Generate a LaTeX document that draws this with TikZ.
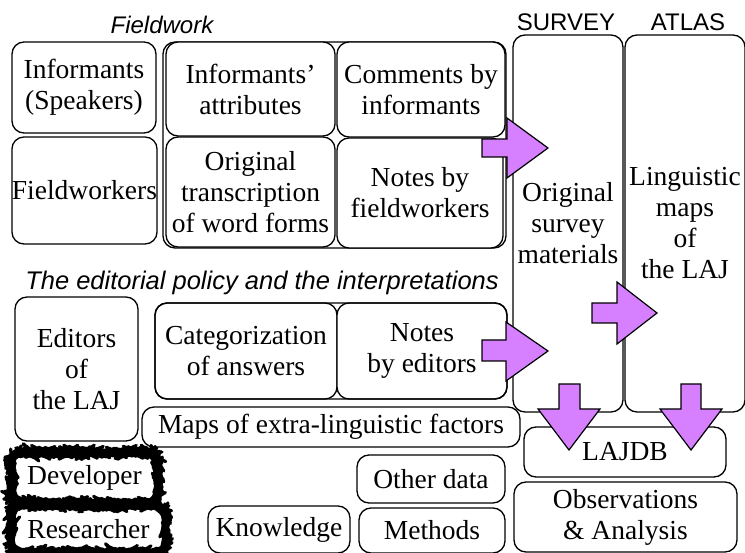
\documentclass[tikz,border=0pt]{standalone}
\usepackage{fontspec}
\setmainfont{Liberation Serif}
\setsansfont{Liberation Sans}
\usetikzlibrary{decorations.pathmorphing}
\definecolor{arrowpurple}{RGB}{214,128,255}
\newcommand{\boxat}[6][box]{%
  \node[#1, minimum width={(#4)-(#2)}, minimum height={(#5)-(#3)}] (#6) at ({((#2)+(#4))/2},{((#3)+(#5))/2})}
\begin{document}
\begin{tikzpicture}[x=1pt,y=-1pt,
  box/.style={draw, line width=1.3pt, rounded corners=12pt, fill=white, inner sep=0pt, align=center,
    font=\fontsize{27.5}{31}\selectfont},
  plainbox/.style={box, draw=none},
  groupbox/.style={draw, line width=1.3pt, rounded corners=12pt, inner sep=0pt},
  roughline/.style={draw, line width=3.2pt, line join=round, line cap=round, rounded corners=12pt,
    decorate, decoration={random steps, segment length=1.2pt, amplitude=0.4pt}},
  caption/.style={font=\sffamily\itshape\fontsize{24}{28}\selectfont, inner sep=0pt},
  title/.style={font=\sffamily\fontsize{24}{28}\selectfont, inner sep=0pt},
  blockarrow/.style={draw, line width=1.2pt, fill=arrowpurple, line join=miter}
]
\useasboundingbox (0,0) rectangle (745,553);

% captions
\node[caption] (fw) at (162,25) {Fieldwork};
\node[caption, font=\sffamily\itshape\fontsize{25.5}{28}\selectfont] (ed) at (262,283) {The editorial policy and the interpretations};
\node[title] (sv) at (566,22) {SURVEY};
\node[title] (at) at (688,22) {ATLAS};

% fieldwork
\boxat{12}{42}{156}{133}{inf} {Informants\\(Speakers)};
\boxat{12}{137}{157}{244}{fwk} {Fieldworkers};
\node[groupbox, minimum width=343pt, minimum height=206pt] (fgroup) at (334.5,145) {};
\boxat{166}{42}{335}{136}{attr} {Informants’\\attributes};
\boxat{337}{42}{505}{137}{comm} {Comments by\\informants};
\boxat{166}{137}{335}{247}{orig} {Original\\transcription\\of word forms};
\boxat{337}{138}{503}{248}{nfw} {Notes by\\fieldworkers};

% survey / atlas
\boxat{513}{35}{623}{412}{survey} {Original\\survey\\materials};
\boxat{625}{35}{745}{412}{atlas} {Linguistic\\maps\\of\\the LAJ};

% editorial
\boxat{15}{297}{138}{441}{editors} {Editors\\of\\the LAJ};
\boxat{155}{303}{337}{399}{categ} {Categorization\\of answers};
\boxat{337}{303}{507}{399}{ned} {Notes\\by editors};
\node[groupbox, line width=1.4pt, minimum width=352pt, minimum height=96pt] (egroup) at (331,351) {};
\boxat{142}{407}{520}{447}{maps} {Maps of extra-linguistic factors};

% database / analysis
\boxat{524}{427}{726}{477}{lajdb} {LAJDB};
\boxat{514}{482}{737}{552}{obs} {Observations\\\& Analysis};

% bottom
\boxat[plainbox]{12}{453}{157}{502}{dev} {Developer};
\boxat[plainbox]{12}{506}{165}{552}{res} {Researcher};
\draw[roughline] (dev.north west) rectangle (dev.south east);
\draw[roughline] (res.north west) rectangle (res.south east);
\boxat{357}{455}{505}{503}{other} {Other data};
\boxat{359}{508}{505}{553}{meth} {Methods};
\boxat{208}{506}{350}{553}{know} {Knowledge};

% block arrows
\draw[blockarrow] (482,139) -- (507,139) -- (507,118) -- (548,148) -- (507,178) -- (507,157) -- (482,157) -- cycle;
\draw[blockarrow] (482,340) -- (506,340) -- (506,322) -- (548,351) -- (506,381) -- (506,361) -- (482,361) -- cycle;
\draw[blockarrow] (592,303) -- (617,303) -- (617,282) -- (657,313) -- (617,344) -- (617,323) -- (592,323) -- cycle;
\draw[blockarrow] (559,384) -- (580,384) -- (580,409) -- (600,409) -- (569,450) -- (538,409) -- (559,409) -- cycle;
\draw[blockarrow] (681,384) -- (701,384) -- (701,409) -- (722,409) -- (691,450) -- (660,409) -- (681,409) -- cycle;
\end{tikzpicture}
\end{document}
